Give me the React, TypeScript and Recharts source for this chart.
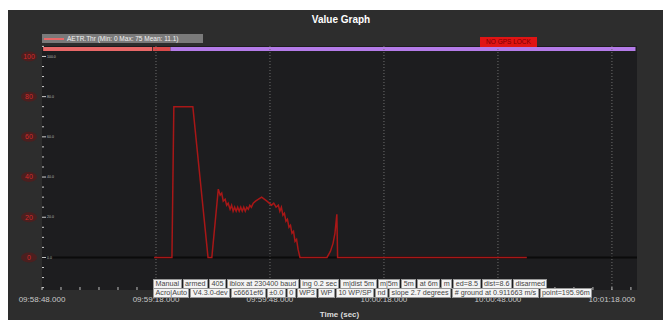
import {
  ComposedChart,
  Line,
  XAxis,
  YAxis,
  CartesianGrid,
  ReferenceLine,
  ReferenceArea,
} from "recharts";

// seconds since 09:58:48.000
const times = [
  29.5, 34.2, 34.7, 39.7, 43.7, 44.7, 46.4, 46.9, 47.3, 47.7, 48.2, 48.6, 49.0,
  49.5, 49.9, 50.3, 50.7, 51.1, 51.5, 51.9, 52.3, 52.7, 53.1, 53.5, 53.9, 54.3,
  54.7, 55.1, 55.6, 56.2, 57.0, 57.8, 58.5, 59.2, 59.8, 60.4, 61.0, 61.6, 62.2,
  62.6, 63.0, 63.4, 63.8, 64.2, 64.6, 65.0, 65.4, 65.8, 66.2, 66.6, 67.0, 67.4,
  67.9, 75.0, 75.9, 76.6, 77.1, 77.6, 77.8, 127.6,
];
const throttle = [
  0, 0, 75, 75, 0, 0, 34, 31, 32, 28, 29, 26, 27, 24, 26, 23, 25, 23, 25, 23,
  25, 23, 25, 23, 25, 24, 26, 25, 27, 28, 29, 30, 29, 28, 27, 26, 27, 25, 26,
  23, 25, 21, 22, 18, 19, 15, 16, 12, 13, 8, 9, 4, 0, 0, 3, 7, 12, 21.5, 0, 0,
];

const xTicks = [
  0, 5, 10, 15, 20, 25, 30, 35, 40, 45, 50, 55, 60, 65, 70, 75, 80, 85, 90, 95,
  100, 105, 110, 115, 120, 125, 130, 135, 140, 145, 150, 155,
];
const xLabels: Record<number, string> = {
  0: "09:58:48.000",
  30: "09:59:18.000",
  60: "09:59:48.000",
  90: "10:00:18.000",
  120: "10:00:48.000",
  150: "10:01:18.000",
};
const gridTimes = [30, 60, 90, 120, 150];

const yTicks = [
  -15, -10, -5, 0, 5, 10, 15, 20, 25, 30, 35, 40, 45, 50, 55, 60, 65, 70, 75,
  80, 85, 90, 95, 100, 105,
];
const yLabels = [0, 20, 40, 60, 80, 100];

// flight mode strip along the top
const modeStarts = [0.3, 29.2, 33.8];
const modeEnds = [29.0, 33.8, 156.2];
const modeColors = ["#e86868", "#d94a4a", "#b47be8"];

const hudRow1 = [
  "Manual", "armed", "405", "iblox at 230400 baud", "ing 0.2 sec",
  "m|dist 5m", "m|5m", "5m", "at 6m", "m", "ed=8.5", "dist=8.6", "disarmed",
];
const hudRow2 = [
  "Acro|Auto", "V4.3.0-dev", "c6661ef6", "±0.0", "0", "WP3", "WP",
  "10 WP/SP", "nd", "slope 2.7 degrees", "# ground at 0.911663 m/s",
  "point=195.96m",
];

const data = times.map((t, i) => ({ t, v: throttle[i] }));

const FONT = "'Liberation Sans', Arial, sans-serif";

function XTick(props: any) {
  const { x, y, payload } = props;
  const lbl = xLabels[payload.value];
  return (
    <g>
      <line x1={x} x2={x} y1={y - 3} y2={y} stroke="#bdbdbd" strokeWidth={1} />
      {lbl && (
        <text x={x} y={y + 12} textAnchor="middle" fill="#c8c8c8" fontSize={8} fontFamily={FONT}>
          {lbl}
        </text>
      )}
    </g>
  );
}

function YTick(props: any) {
  const { x, y, payload } = props;
  const major = yLabels.includes(payload.value);
  return (
    <g>
      <line x1={x} x2={x + (major ? 4 : 2)} y1={y} y2={y} stroke="#cfcfcf" strokeWidth={1} />
      {major && (
        <>
          <ellipse cx={x - 13} cy={y} rx={8} ry={5} fill="#5a1a1a" opacity={0.7} />
          <text x={x - 13} y={y} dy="0.35em" textAnchor="middle" fill="#d02a2a" fontSize={7} fontFamily={FONT}>
            {payload.value}
          </text>
          <text x={x + 5} y={y} dy="0.35em" fill="#bbbbbb" fontSize={3.5} fontFamily={FONT}>
            {payload.value}.0
          </text>
        </>
      )}
    </g>
  );
}

function HudRow({ cells, top }: { cells: string[]; top: number }) {
  return (
    <div
      style={{
        position: "absolute",
        left: 145,
        top,
        display: "flex",
        gap: 1,
        fontFamily: FONT,
        fontSize: 7.2,
        lineHeight: "8px",
        color: "#444",
      }}
    >
      {cells.map((c, i) => (
        <div key={i} style={{ background: "#f4f4f4", padding: "0 1.5px", whiteSpace: "nowrap", border: "0.5px solid #999" }}>
          {c}
        </div>
      ))}
    </div>
  );
}

export default function App() {
  return (
    <div
      style={{
        position: "absolute",
        left: 8,
        top: 10,
        width: 655,
        height: 310,
        background: "#2d2d2d",
        fontFamily: FONT,
        overflow: "hidden",
      }}
    >
      <ComposedChart
        width={655}
        height={310}
        data={data}
        margin={{ top: 36, right: 26, bottom: 0, left: 0 }}
      >
        <CartesianGrid horizontal={false} vertical={false} fill="#1d1d1f" stroke="none" />
        <XAxis
          dataKey="t"
          type="number"
          domain={[0, 156.6]}
          ticks={xTicks}
          interval={0}
          allowDataOverflow
          axisLine={false}
          tickLine={false}
          tickSize={0}
          tickMargin={0}
          height={30}
          tick={<XTick />}
          label={{
            value: "Time (sec)",
            position: "insideBottom",
            offset: 3,
            fill: "#dddddd",
            fontSize: 8,
            fontWeight: "bold",
          }}
        />
        <YAxis
          type="number"
          domain={[-16.2, 105.2]}
          ticks={yTicks}
          interval={0}
          allowDataOverflow
          width={34}
          axisLine={false}
          tickLine={false}
          tickSize={0}
          tickMargin={0}
          tick={<YTick />}
        />
        {gridTimes.map((g) => (
          <ReferenceLine key={g} x={g} stroke="#6e6e6e" strokeDasharray="1 2" strokeWidth={1} />
        ))}
        <ReferenceLine y={0} stroke="#0b0b0b" strokeWidth={2} />
        {modeStarts.map((s, i) => (
          <ReferenceArea
            key={i}
            x1={s}
            x2={modeEnds[i]}
            y1={102.7}
            y2={104.7}
            fill={modeColors[i]}
            fillOpacity={1}
            stroke="none"
          />
        ))}
        <Line
          dataKey="v"
          type="linear"
          stroke="#a81717"
          strokeWidth={1.5}
          dot={false}
          isAnimationActive={false}
        />
      </ComposedChart>

      <div
        style={{
          position: "absolute",
          left: 0,
          width: 666,
          top: 4,
          textAlign: "center",
          color: "#ffffff",
          fontWeight: "bold",
          fontSize: 10,
        }}
      >
        Value Graph
      </div>

      <div
        style={{
          position: "absolute",
          left: 34,
          top: 24,
          width: 161,
          height: 9,
          background: "#7a7a7a",
          display: "flex",
          alignItems: "center",
          fontSize: 6.5,
          color: "#f2f2f2",
          whiteSpace: "nowrap",
        }}
      >
        <span style={{ display: "inline-block", width: 20, height: 2, background: "#e86868", margin: "0 3px 0 2px" }} />
        AETR.Thr (Min: 0 Max: 75 Mean: 11.1)
      </div>

      <div
        style={{
          position: "absolute",
          left: 472,
          top: 27,
          width: 57,
          height: 10,
          background: "#e01414",
          color: "#7a0000",
          fontSize: 6.5,
          lineHeight: "10px",
          textAlign: "center",
          whiteSpace: "nowrap",
        }}
      >
        NO GPS LOCK
      </div>

      <HudRow cells={hudRow1} top={269} />
      <HudRow cells={hudRow2} top={278} />
    </div>
  );
}
